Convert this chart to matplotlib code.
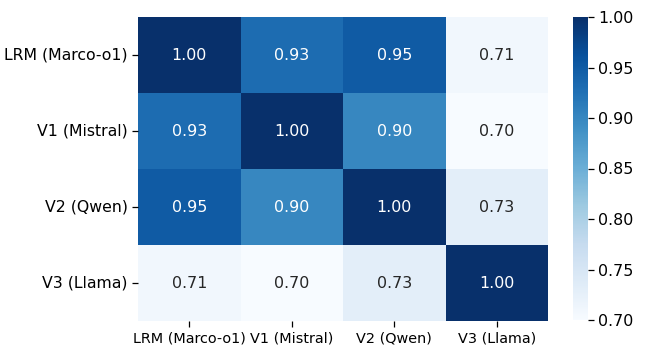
import matplotlib
matplotlib.use("Agg")
import matplotlib.pyplot as plt
import seaborn as sns
import numpy as np

labels = ["LRM (Marco-o1)", "V1 (Mistral)", "V2 (Qwen)", "V3 (Llama)"]
row_lrm = [1.00, 0.93, 0.95, 0.71]
row_v1 = [0.93, 1.00, 0.90, 0.70]
row_v2 = [0.95, 0.90, 1.00, 0.73]
row_v3 = [0.71, 0.70, 0.73, 1.00]
cbar_ticks = [0.70, 0.75, 0.80, 0.85, 0.90, 0.95, 1.00]

data = np.array([row_lrm, row_v1, row_v2, row_v3])

W, H = 646, 351
fig = plt.figure(figsize=(W / 100, H / 100), dpi=100)
ax = fig.add_axes([138 / W, 1 - 321 / H, (548 - 138) / W, (321 - 17) / H])
cax = fig.add_axes([573 / W, 1 - 320 / H, (588 - 573) / W, (320 - 17) / H])

sns.heatmap(data, ax=ax, cbar_ax=cax, cmap="Blues", vmin=0.70, vmax=1.00,
            annot=True, fmt=".2f", annot_kws={"fontsize": 11.4},
            xticklabels=labels, yticklabels=labels)
ax.tick_params(axis="both", length=4, width=0.9)
ax.set_yticklabels(labels, rotation=0, fontsize=11.3)
ax.set_xticklabels(labels, rotation=0, fontsize=10.4)
cax.set_yticks(cbar_ticks)
cax.set_yticklabels([f"{t:.2f}" for t in cbar_ticks])
cax.tick_params(labelsize=11.4, length=4, width=0.9)

fig.savefig("out.png", dpi=100)
